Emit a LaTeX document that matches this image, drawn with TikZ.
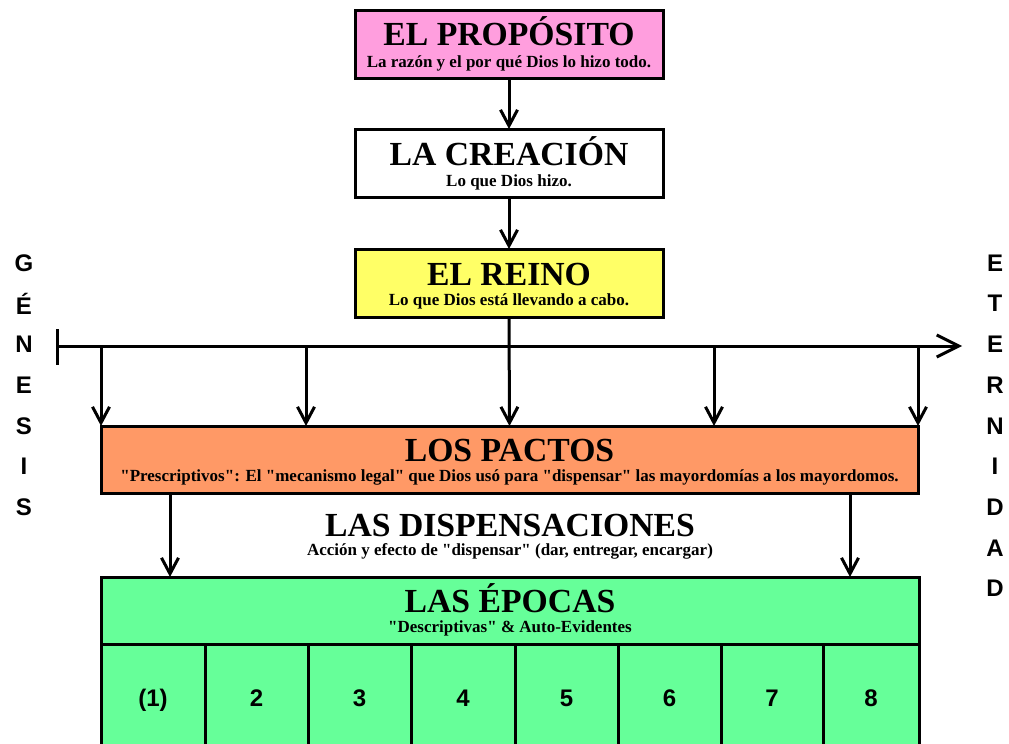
\documentclass[tikz,border=0pt]{standalone}
\usepackage{fontspec}
\setmainfont{Liberation Serif}[Ligatures=TeXOff]
\newfontfamily\arialfont{Liberation Sans}
\usetikzlibrary{arrows.meta}
\definecolor{pinkc}{RGB}{255,158,222}
\definecolor{yelc}{RGB}{255,255,102}
\definecolor{salc}{RGB}{255,153,102}
\definecolor{grnc}{RGB}{102,255,153}
\begin{document}
\begin{tikzpicture}[x=1pt,y=-1pt,
  box/.style={draw=black, line width=3pt, inner sep=0pt, outer sep=0pt},
  ttl/.style={font=\fontsize{33.7}{34}\selectfont\bfseries, anchor=base, inner sep=0pt},
  sub/.style={font=\fontsize{17}{18}\selectfont\bfseries, anchor=base, inner sep=0pt},
  num/.style={font=\arialfont\fontsize{24}{24}\selectfont\bfseries, anchor=base, inner sep=0pt},
  side/.style={font=\arialfont\fontsize{24}{24}\selectfont\bfseries, inner sep=0pt},
  arr/.style={line width=3pt, -{Straight Barb[length=16pt,width=17pt,line width=3pt]}},
  bigarr/.style={line width=3pt, -{Straight Barb[length=22pt,width=22pt,line width=3pt]}},
  tline/.style={line width=3pt}]
\useasboundingbox (0,0) rectangle (1009,744);
\clip (0,0) rectangle (1009,744);

% top boxes
\node[box, minimum width=308pt, minimum height=68pt, fill=pinkc] (prop) at (509,44) {};
\node[ttl] (propt) at (509,45) {EL PROPÓSITO};
\node[sub] (props) at (509,67) {La razón y el por qué Dios lo hizo todo.};

\node[box, minimum width=308pt, minimum height=68pt, fill=white] (crea) at (509,163) {};
\node[ttl] (creat) at (509,165) {LA CREACIÓN};
\node[sub] (creas) at (509,186) {Lo que Dios hizo.};

\node[box, minimum width=308pt, minimum height=68pt, fill=yelc] (reino) at (509,283) {};
\node[ttl] (reinot) at (509,285) {EL REINO};
\node[sub] (reinos) at (509,305) {Lo que Dios está llevando a cabo.};

\draw[arr] (prop.south) -- (crea.north);
\draw[arr] (crea.south) -- (reino.north);

% pactos
\node[box, minimum width=817pt, minimum height=67pt, fill=salc] (pactos) at (509.5,459.5) {};
\node[ttl] (pactost) at (509.5,461) {LOS PACTOS};
\node[sub] (pactoss) at (509.5,481) {"Prescriptivos": El "mecanismo legal" que Dios usó para "dispensar" las mayordomías a los mayordomos.};

% timeline
\coordinate (tl0) at (57.5,346);
\coordinate (tl1) at (962,346);
\coordinate (bar0) at (57.5,329);
\coordinate (bar1) at (57.5,365);
\draw[tline] (bar0) -- (bar1);
\draw[bigarr] (tl0) -- (tl1);
\foreach \i/\x in {1/101,2/306,4/714,5/918}{
  \coordinate (t\i) at (\x,346);
  \draw[arr] (t\i) -- (t\i |- pactos.north);
}
\draw[arr] (reino.south) -- (pactos.north);

% dispensaciones
\node[ttl] (dispt) at (510,536) {LAS DISPENSACIONES};
\node[sub] (disps) at (510,555) {Acción y efecto de "dispensar" (dar, entregar, encargar)};

% epocas
\node[box, minimum width=818pt, minimum height=67pt, fill=grnc] (epocas) at (510,610.5) {};
\node[ttl] (epocast) at (510,612) {LAS ÉPOCAS};
\node[sub] (epocass) at (510,632) {"Descriptivas" \& Auto-Evidentes};

\coordinate (d1) at (170,0);
\coordinate (d2) at (850,0);
\draw[arr] (pactos.south -| d1) -- (epocas.north -| d1);
\draw[arr] (pactos.south -| d2) -- (epocas.north -| d2);

\foreach \i/\cx/\w/\lab in {1/153/104/(1),2/256.5/103/2,3/359.5/103/3,4/463/104/4,5/566.5/103/5,6/669.5/103/6,7/772/102/7,8/871/96/8}{
  \node[box, minimum width=\w pt, minimum height=116pt, fill=grnc] (c\i) at (\cx,702) {};
  \node[num] (n\i) at (\cx,706) {\lab};
}

% side words
\foreach \l [count=\k from 0] in {G,É,N,E,S,I,S}{
  \node[side] (g\k) at (24,263+40.7*\k) {\l};
}
\foreach \l [count=\k from 0] in {E,T,E,R,N,I,D,A,D}{
  \node[side] (e\k) at (995,263+40.7*\k) {\l};
}
\end{tikzpicture}
\end{document}
